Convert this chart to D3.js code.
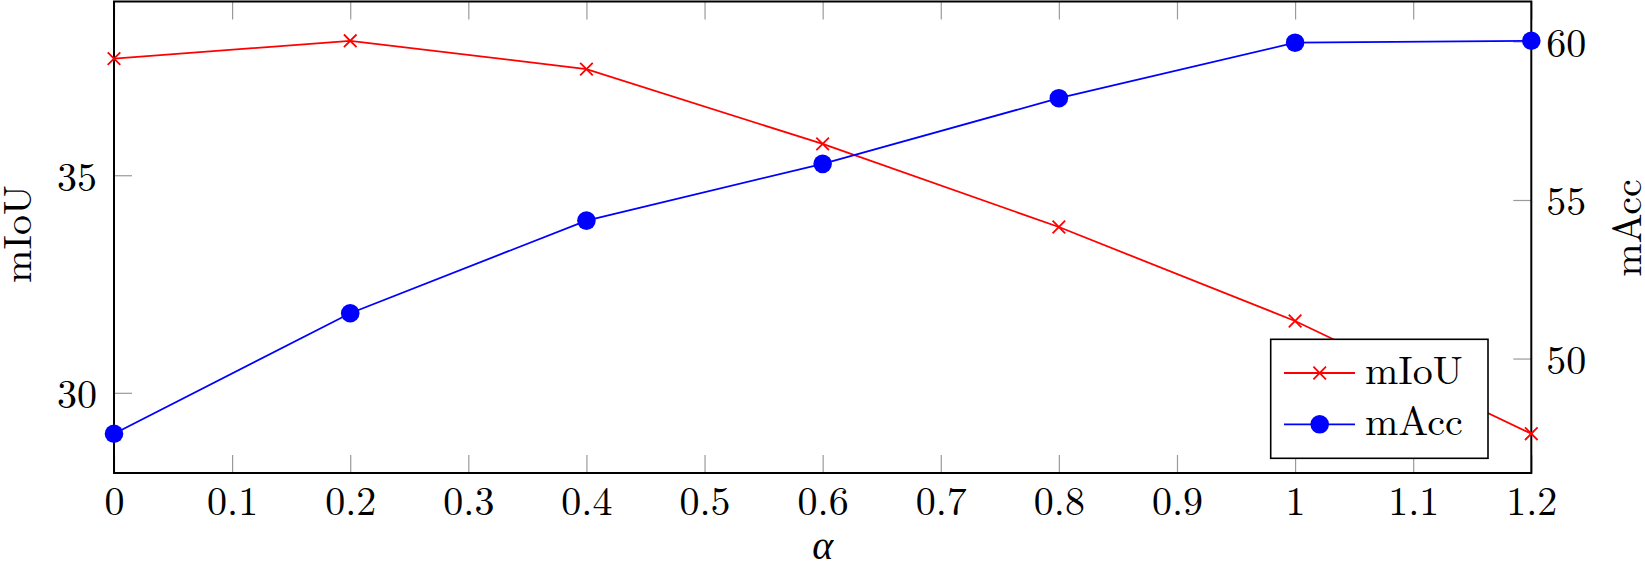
<!DOCTYPE html>
<html>
<head>
<meta charset="utf-8">
<script src="https://cdn.jsdelivr.net/npm/d3@7"></script>
<style>
    html, body { margin: 0; padding: 0; background: #fff; }
    svg { display: block; }
</style>
</head>
<body>
<svg></svg>
<script>
var alphas = [0, 0.2, 0.4, 0.6, 0.8, 1.0, 1.2];
var mIoU = [37.68, 38.09, 37.44, 35.72, 33.81, 31.65, 29.06];
var mAcc = [47.63, 51.43, 54.35, 56.14, 58.21, 59.96, 60.02];

var xTicks = [0, 0.1, 0.2, 0.3, 0.4, 0.5, 0.6, 0.7, 0.8, 0.9, 1, 1.1, 1.2];
var leftTicks = [30, 35];
var rightTicks = [50, 55, 60];

var seriesNames = ["mIoU", "mAcc"];
var seriesColors = ["#ff0000", "#0000ff"];

const svgWidth = 1645,
    svgHeight = 562;

var margin = { top: 1.5, right: 113.7, bottom: 89, left: 114 };
var width = svgWidth - margin.left - margin.right;
var height = svgHeight - margin.top - margin.bottom;

var font = "'Latin Modern Roman', 'CMU Serif', 'Liberation Serif', serif";

var svg = d3.select('svg')
    .attr("width", svgWidth)
    .attr("height", svgHeight);

var g = svg.append("g")
    .attr("transform", "translate(" + margin.left + "," + margin.top + ")");

// pgfplots style: enlarge y limits by 10% of the data range
var enlarge = function(vals) {
    var lo = d3.min(vals), hi = d3.max(vals), pad = (hi - lo) * 0.1;
    return [lo - pad, hi + pad];
};

var x = d3.scaleLinear()
    .domain([0, 1.2])
    .range([0, width]);

var yLeft = d3.scaleLinear()
    .domain(enlarge(mIoU))
    .range([height, 0]);

var yRight = d3.scaleLinear()
    .domain(enlarge(mAcc))
    .range([height, 0]);

var tickLen = 18;

var xBottom = d3.axisBottom(x)
    .tickValues(xTicks)
    .tickSize(-tickLen)
    .tickPadding(14)
    .tickFormat(d => d3.format("~g")(d));

var xTop = d3.axisTop(x)
    .tickValues(xTicks)
    .tickSize(-tickLen)
    .tickFormat("");

var yLeftGen = d3.axisLeft(yLeft)
    .tickValues(leftTicks)
    .tickSize(-tickLen)
    .tickPadding(17);

var yRightGen = d3.axisRight(yRight)
    .tickValues(rightTicks)
    .tickSize(-tickLen)
    .tickPadding(15);

g.append("g")
    .attr("transform", "translate(0," + height + ")")
    .call(xBottom);

g.append("g")
    .call(xTop);

g.append("g")
    .call(yLeftGen);

g.append("g")
    .attr("transform", "translate(" + width + ",0)")
    .call(yRightGen);

g.selectAll(".domain").remove();

g.selectAll(".tick line")
    .attr("stroke", "#9a9a9a")
    .attr("stroke-width", 1.2);

g.selectAll(".tick text")
    .attr("font-size", 40)
    .attr("font-family", font)
    .attr("fill", "#000");

g.selectAll(".tick text")
    .filter(function() { return d3.select(this).attr("dy") === "0.32em"; })
    .attr("dy", "0.37em");

// frame
g.append("rect")
    .attr("x", 0)
    .attr("y", 0)
    .attr("width", width)
    .attr("height", height)
    .attr("fill", "none")
    .attr("stroke", "#000")
    .attr("stroke-width", 2);

var series = [
    { name: seriesNames[0], values: mIoU, y: yLeft, color: seriesColors[0], marker: "cross" },
    { name: seriesNames[1], values: mAcc, y: yRight, color: seriesColors[1], marker: "dot" }
];

var drawMarker = function(sel, s, cx, cy) {
    if (s.marker === "cross") {
        var r = 6.3;
        sel.append("path")
            .attr("d", "M" + (cx - r) + "," + (cy - r) + "L" + (cx + r) + "," + (cy + r) +
                "M" + (cx - r) + "," + (cy + r) + "L" + (cx + r) + "," + (cy - r))
            .attr("stroke", s.color)
            .attr("stroke-width", 1.8)
            .attr("fill", "none");
    } else {
        sel.append("circle")
            .attr("cx", cx)
            .attr("cy", cy)
            .attr("r", 9.3)
            .attr("fill", s.color);
    }
};

series.forEach(function(s) {
    var line = d3.line()
        .x((d, i) => x(alphas[i]))
        .y(d => s.y(d));

    var sg = g.append("g");

    sg.append("path")
        .datum(s.values)
        .attr("d", line)
        .attr("fill", "none")
        .attr("stroke", s.color)
        .attr("stroke-width", 1.8);

    s.values.forEach(function(v, i) {
        drawMarker(sg, s, x(alphas[i]), s.y(v));
    });
});

// axis labels
svg.append("text")
    .attr("transform", "translate(31," + 234 + ") rotate(-90)")
    .attr("text-anchor", "middle")
    .attr("font-size", 40)
    .attr("font-family", font)
    .text("mIoU");

svg.append("text")
    .attr("transform", "translate(1641," + 228 + ") rotate(-90)")
    .attr("text-anchor", "middle")
    .attr("font-size", 40)
    .attr("font-family", font)
    .text("mAcc");

svg.append("text")
    .attr("x", margin.left + width / 2)
    .attr("y", 559)
    .attr("text-anchor", "middle")
    .attr("font-size", 40)
    .attr("font-style", "italic")
    .attr("font-family", font)
    .text("α");

// legend
var legend = svg.append("g")
    .attr("transform", "translate(1270.7,339.3)");

legend.append("rect")
    .attr("width", 217.3)
    .attr("height", 119)
    .attr("fill", "#fff")
    .attr("stroke", "#000")
    .attr("stroke-width", 1.6);

series.forEach(function(s, i) {
    var ly = 33.7 + i * 51.3;
    legend.append("line")
        .attr("x1", 13.3)
        .attr("x2", 84.3)
        .attr("y1", ly)
        .attr("y2", ly)
        .attr("stroke", s.color)
        .attr("stroke-width", 1.8);
    drawMarker(legend, s, 49, ly);
    legend.append("text")
        .attr("x", 94.3)
        .attr("y", ly + 11)
        .attr("font-size", 40)
        .attr("font-family", font)
        .text(s.name);
});
</script>
</body>
</html>
